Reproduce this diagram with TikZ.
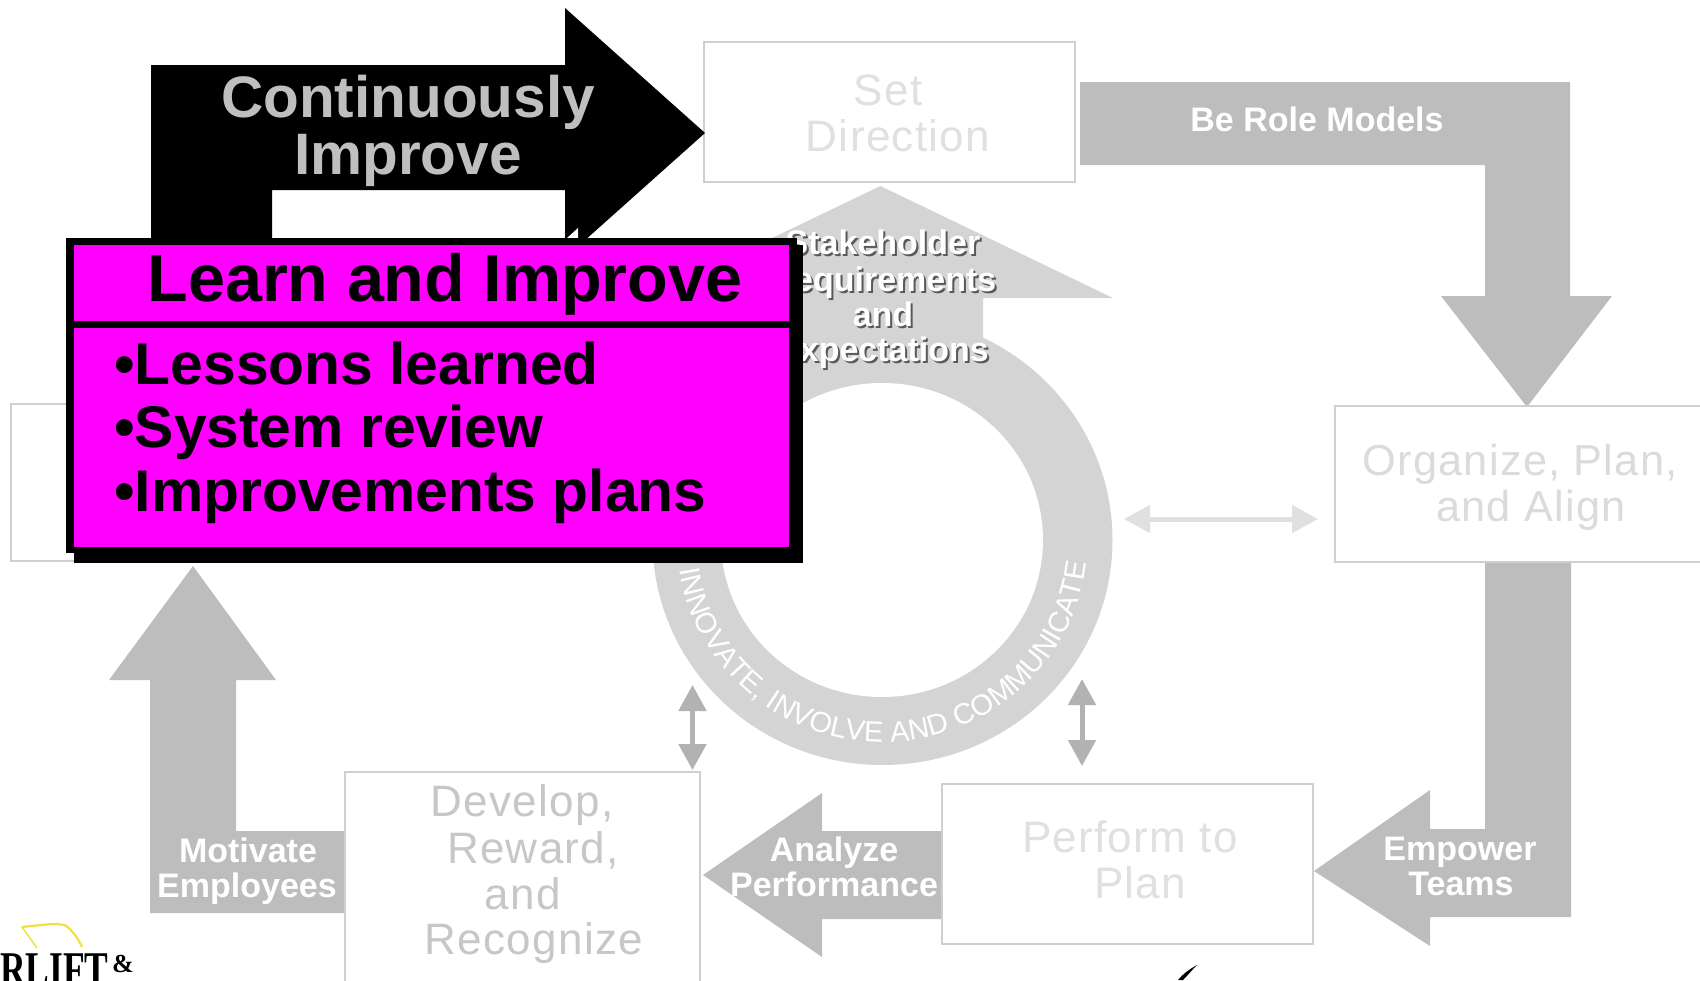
\documentclass[tikz,border=0pt]{standalone}
\usepackage{fontspec}
\setmainfont{Liberation Sans}
\newfontfamily\lsfont[LetterSpace=3]{Liberation Sans}
\newfontfamily\logofont{Liberation Serif}
\usetikzlibrary{arrows.meta,decorations.text}
\definecolor{arrowgray}{HTML}{BDBDBD}
\definecolor{ringgray}{HTML}{D4D4D4}
\definecolor{boxline}{HTML}{CFCFCF}
\definecolor{magentafill}{HTML}{FF00FF}
\definecolor{logoyellow}{HTML}{F0E040}
\newcommand{\fsz}[1]{\fontsize{#1}{#1}\selectfont}
\tikzset{
  x=1pt,y=1pt,
  grayarrow/.style={fill=arrowgray,draw=none},
  stagebox/.style={draw=boxline,line width=1.6pt,fill=white,anchor=north west,inner sep=0pt},
  lbl/.style={inner sep=0pt,anchor=base,align=center},
  whitelbl/.style={lbl,text=white,font=\bfseries\fsz{34}},
  stagetxt/.style={lbl,font=\lsfont\fsz{44}},
  orgtxt/.style={lbl,font=\lsfont\fsz{43.3}},
  stakelbl/.style={lbl,text=white,font=\bfseries\fsz{34}},
  stakeshadow/.style={lbl,text=black!65,font=\bfseries\fsz{34}},
  bullettxt/.style={inner sep=0pt,anchor=base west,font=\bfseries\fsz{58.8}},
  dbl/.style={line width=5pt,{Triangle[length=26pt,width=27pt]}-{Triangle[length=26pt,width=27pt]}}
}
\begin{document}
\begin{tikzpicture}
\useasboundingbox (0,-980) rectangle (1700,0);
\clip (0,-980) rectangle (1700,0);
\fill[white] (0,-980) rectangle (1700,0);

% gray flow arrows
\fill[grayarrow] (1080,-82) -- (1570,-82) -- (1570,-296) -- (1612,-296) -- (1527,-407) -- (1441,-296) -- (1485,-296) -- (1485,-165) -- (1080,-165) -- cycle;
\fill[grayarrow] (1485,-561) -- (1571,-561) -- (1571,-917) -- (1430,-917) -- (1430,-946) -- (1314,-871) -- (1430,-790) -- (1430,-829) -- (1485,-829) -- cycle;
\fill[grayarrow] (941,-831) -- (822,-831) -- (822,-793) -- (703,-875) -- (822,-957) -- (822,-919) -- (941,-919) -- cycle;
\fill[grayarrow] (344,-831) -- (236,-831) -- (236,-680) -- (276,-680) -- (193,-566) -- (109,-680) -- (150,-680) -- (150,-913) -- (344,-913) -- cycle;

% central ring with up arrow
\fill[ringgray] (882.5,-540) ellipse[x radius=230,y radius=225];
\fill[ringgray] (782,-345) -- (782,-298) -- (647,-298) -- (880.5,-186) -- (1113,-298) -- (983,-298) -- (983,-345) -- cycle;
\fill[white] (882,-540) ellipse[x radius=161,y radius=157];
\path[decorate,decoration={text along path,text align=center,
  text={|\fsz{29}\color{white}|INNOVATE, INVOLVE AND COMMUNICATE}}]
  (882.5,-540) ++(171:205 and 202) arc[start angle=171,end angle=371,x radius=205,y radius=202];

% stage boxes
\node[stagebox,minimum width=371,minimum height=140] (setbox) at (703,-41) {};
\node[stagebox,minimum width=400,minimum height=156] (orgbox) at (1334,-405) {};
\node[stagebox,minimum width=371,minimum height=160] (perfbox) at (941,-783) {};
\node[stagebox,minimum width=355,minimum height=260] (devbox) at (344,-771) {};
\node[stagebox,minimum width=100,minimum height=157] (leftbox) at (10,-403) {};

% stage texts
\node[stagetxt,text=black!12] (t1a) at (888,-105) {Set};
\node[stagetxt,text=black!12] (t1b) at (898,-151) {Direction};
\node[orgtxt,text=black!14] (t2a) at (1520,-475) {Organize, Plan,};
\node[orgtxt,text=black!14] (t2b) at (1531,-521) {and Align};
\node[stagetxt,text=black!12] (t3a) at (1130,-852) {Perform to};
\node[stagetxt,text=black!12] (t3b) at (1140,-898) {Plan};
\node[stagetxt,text=black!22] (t4a) at (522,-816) {Develop,};
\node[stagetxt,text=black!22] (t4b) at (533,-863) {Reward,};
\node[stagetxt,text=black!22] (t4c) at (523,-909) {and};
\node[stagetxt,text=black!22] (t4d) at (534,-954) {Recognize};

% arrow labels
\node[whitelbl] (l1) at (1317,-131) {Be Role Models};
\node[whitelbl] (l2a) at (1460,-860) {Empower};
\node[whitelbl] (l2b) at (1461,-895) {Teams};
\node[whitelbl] (l3a) at (834,-861) {Analyze};
\node[whitelbl] (l3b) at (834,-896) {Performance};
\node[whitelbl] (l4a) at (248,-862) {Motivate};
\node[whitelbl] (l4b) at (247,-897) {Employees};

% stakeholder label
\node[stakeshadow] at (885,-256) {Stakeholder};
\node[stakeshadow] at (885,-293) {Requirements};
\node[stakeshadow] at (885,-328) {and};
\node[stakeshadow] at (885,-363) {Expectations};
\node[stakelbl] (s1) at (883,-254) {Stakeholder};
\node[stakelbl] (s2) at (883,-291) {Requirements};
\node[stakelbl] (s3) at (883,-326) {and};
\node[stakelbl] (s4) at (883,-361) {Expectations};

% double arrows
\coordinate (ha) at (1124,-519);
\coordinate (hb) at (1318,-519);
\coordinate (va) at (692.5,-685);
\coordinate (vb) at (692.5,-770);
\coordinate (wa) at (1082,-679);
\coordinate (wb) at (1082,-766);
\draw[dbl,draw=black!12,fill=black!12] (ha) -- (hb);
\draw[dbl,draw=black!30,fill=black!30] (va) -- (vb);
\draw[dbl,draw=black!30,fill=black!30] (wa) -- (wb);

% black arrow
\fill[black] (151,-65) -- (565,-65) -- (565,-8) -- (705,-133) -- (565,-258) -- (565,-190) -- (272,-190) -- (272,-245) -- (151,-245) -- cycle;
\fill[white] (567,-238) -- (578,-228) -- (578,-238) -- cycle;
\node[lbl,text=black!25,font=\bfseries\fsz{58.5}] (c1) at (408,-117) {Continuously};
\node[lbl,text=black!25,font=\bfseries\fsz{58.5}] (c2) at (408,-174) {Improve};

% learn and improve box
\fill[black] (74,-553) rectangle (803,-562.5);
\fill[black] (789,-245) rectangle (803,-562.5);
\fill[black] (66,-238) rectangle (797,-553);
\fill[magentafill] (74,-245) rectangle (789,-547);
\fill[black] (74,-321) rectangle (789,-328);
\node[lbl,font=\bfseries\fsz{66.5}] (h) at (445,-301) {Learn and Improve};
\node[bullettxt] (b1) at (114,-384) {•Lessons learned};
\node[bullettxt] (b2) at (114,-447) {•System review};
\node[bullettxt] (b3) at (114,-511) {•Improvements plans};

% logo
\draw[logoyellow,line width=2.2pt,line join=round] (22,-927) .. controls (40,-925) and (55,-923) .. (65,-925) .. controls (72,-930) and (78,-938) .. (82,-947);
\draw[logoyellow,line width=1.5pt] (22,-927) -- (37,-948);
\node[inner sep=0pt,anchor=base west,font=\logofont\bfseries\fsz{50},xscale=.71] (logo) at (0,-986) {RLIFT};
\node[inner sep=0pt,anchor=base west,font=\logofont\bfseries\fsz{26}] (amp) at (112,-972) {\&};

% tick at the bottom
\fill[black] (1197,-965) .. controls (1188,-970) and (1182,-975) .. (1178,-980) -- (1183,-980) .. controls (1188,-975) and (1192,-970) .. (1197,-965) -- cycle;
\end{tikzpicture}
\end{document}
